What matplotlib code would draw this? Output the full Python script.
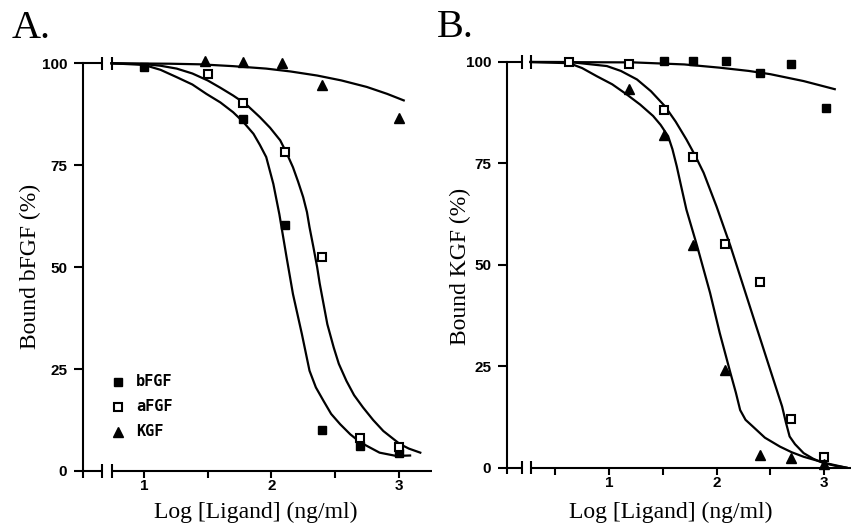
import matplotlib
matplotlib.use("Agg")
import matplotlib.pyplot as plt
from matplotlib.ticker import FixedLocator

# ---------------- data ----------------
# Panel A: Bound bFGF (%)
A_bFGF_x = [1.0, 1.78, 2.11, 2.40, 2.70, 3.0]
A_bFGF_y = [99.2, 86.4, 60.4, 10.0, 6.2, 4.3]
A_aFGF_x = [1.50, 1.78, 2.11, 2.40, 2.70, 3.0]
A_aFGF_y = [97.4, 90.3, 78.2, 52.6, 8.0, 6.0]
A_KGF_x = [1.48, 1.78, 2.08, 2.40, 3.0]
A_KGF_y = [100.5, 100.2, 100.0, 94.6, 86.7]

# fitted curves, panel A
A_bFGF_cx = [0.745, 1.0, 1.13, 1.257, 1.38, 1.49, 1.60, 1.70, 1.78, 1.86, 1.91,
             1.96, 2.016, 2.063, 2.12, 2.17, 2.24, 2.30, 2.35, 2.41, 2.47, 2.54,
             2.62, 2.70, 2.85, 2.98, 3.09]
A_bFGF_cy = [100.0, 99.6, 98.4, 96.6, 94.8, 92.5, 90.4, 88.0, 85.6, 82.7, 80.0,
             77.0, 70.4, 63.0, 52.4, 43.4, 33.6, 24.6, 20.5, 17.2, 14.0, 11.5,
             9.0, 7.0, 4.5, 3.7, 3.8]
A_aFGF_cx = [0.745, 1.0, 1.13, 1.257, 1.38, 1.5, 1.60, 1.70, 1.80, 1.91, 1.99,
             2.07, 2.12, 2.17, 2.21, 2.25, 2.28, 2.30, 2.33, 2.36, 2.38, 2.41,
             2.44, 2.49, 2.53, 2.59, 2.65, 2.72, 2.80, 2.88, 3.01, 3.08, 3.17]
A_aFGF_cy = [100.0, 99.8, 99.4, 98.7, 97.5, 95.8, 94.0, 92.1, 90.0, 86.8, 84.2,
             81.1, 78.0, 74.5, 71.0, 67.2, 63.5, 59.8, 55.0, 50.0, 46.0, 41.0,
             36.0, 30.3, 26.3, 22.1, 18.6, 15.6, 12.5, 9.8, 6.6, 5.5, 4.5]
A_KGF_cx = [0.745, 1.2, 1.44, 1.7, 1.96, 2.15, 2.36, 2.55, 2.75, 2.91, 3.04]
A_KGF_cy = [100.0, 99.9, 99.75, 99.3, 98.7, 98.0, 97.0, 95.8, 94.2, 92.5, 90.9]

# Panel B: Bound KGF (%)
B_aFGF_x = [0.63, 1.19, 1.51, 1.78, 2.08, 2.40, 2.69, 3.0]
B_aFGF_y = [100.0, 99.4, 88.1, 76.6, 55.2, 45.8, 12.0, 2.7]
B_bFGF_x = [1.51, 1.78, 2.09, 2.40, 2.69, 3.02]
B_bFGF_y = [100.2, 100.2, 100.3, 97.2, 99.4, 88.7]
B_KGF_x = [1.19, 1.51, 1.78, 2.08, 2.40, 2.69, 3.0]
B_KGF_y = [93.3, 82.1, 55.0, 24.1, 3.1, 2.3, 0.8]

B_aFGF_cx = [0.27, 0.63, 0.98, 1.11, 1.26, 1.39, 1.52, 1.62, 1.72, 1.80, 1.88,
             2.0, 2.13, 2.25, 2.37, 2.50, 2.61, 2.645, 2.68, 2.73, 2.81, 2.90,
             2.99, 3.10, 3.21]
B_aFGF_cy = [100.0, 100.0, 99.0, 97.8, 95.7, 92.8, 89.1, 85.3, 80.9, 77.0, 72.7,
             64.4, 54.6, 44.7, 34.8, 24.1, 15.1, 11.2, 7.7, 5.8, 3.6, 2.2,
             1.2, 0.5, 0.0]
B_KGF_cx = [0.27, 0.63, 0.75, 0.886, 1.03, 1.165, 1.29, 1.41, 1.48, 1.55, 1.59,
            1.63, 1.67, 1.72, 1.82, 1.94, 2.03, 2.13, 2.18, 2.22, 2.27, 2.34,
            2.45, 2.59, 2.70, 2.81, 3.02, 3.21]
B_KGF_cy = [100.0, 99.7, 98.5, 96.5, 94.5, 92.0, 89.5, 86.7, 84.5, 81.7, 78.5,
            74.3, 69.5, 63.6, 54.6, 43.1, 33.2, 23.3, 18.5, 14.2, 11.8, 10.1,
            7.4, 5.2, 3.8, 2.7, 1.1, 0.0]
B_bFGF_cx = [0.27, 1.23, 1.70, 2.03, 2.30, 2.50, 2.81, 3.10]
B_bFGF_cy = [100.0, 99.9, 99.4, 98.6, 97.8, 97.0, 95.3, 93.3]

y_ticks = [0, 25, 50, 75, 100]
x_ticks = [1, 2, 3]
A_minor = [1.5, 2.5]
B_minor = [0.5, 1.5, 2.5]
legend_labels = ["bFGF", "aFGF", "KGF"]

# ---------------- figure ----------------
W, H = 851, 527
fig = plt.figure(figsize=(W / 100, H / 100), dpi=100)
fig.patch.set_facecolor("white")


def ax_at(l, r, b, t):
    return fig.add_axes([l / W, (H - b) / H, (r - l) / W, (b - t) / H])


axA = ax_at(83, 432, 471, 63.3)
axB = ax_at(507, 851, 467.7, 62)

tickfont = dict(family="Liberation Sans", weight="bold", size=11)
LW_AX = 1.5
LW_C = 1.6
MS = 6


def style(ax, xlim, minor, brk):
    ax.set_xlim(*xlim)
    ax.set_ylim(0, 100)
    for s in ("top", "right", "bottom"):
        ax.spines[s].set_visible(False)
    ax.spines["left"].set_linewidth(LW_AX)
    ax.xaxis.set_major_locator(FixedLocator(x_ticks))
    ax.xaxis.set_minor_locator(FixedLocator(minor))
    ax.set_yticks(y_ticks)
    ax.set_xticklabels([str(v) for v in x_ticks], fontdict=tickfont)
    ax.set_yticklabels([str(v) for v in y_ticks], fontdict=tickfont)
    ax.tick_params(axis="y", direction="out", length=6.3, width=LW_AX, pad=5)
    ax.tick_params(axis="x", which="both", direction="out", length=4.8,
                   width=LW_AX, pad=1)
    x0, x1 = xlim
    b1, b2 = brk
    d = 1.65
    k = dict(color="k", lw=LW_AX, clip_on=False, solid_capstyle="butt")
    # broken x-axis
    ax.plot([x0, b1], [0, 0], **k)
    ax.plot([b2, x1], [0, 0], **k)
    ax.plot([x0, x0], [0, -d], **k)
    for b in (b1, b2):
        ax.plot([b, b], [-d, d], **k)
        ax.plot([b, b], [100 - d, 100 + d], **k)
    # top stub
    ax.plot([x0, b1], [100, 100], **k)
    ax.set_facecolor("none")


style(axA, (0.521, 3.262), A_minor, (0.674, 0.745))
style(axB, (0.051, 3.251), B_minor, (0.188, 0.270))

mk_b = dict(marker="s", ms=MS, mfc="k", mec="k", ls="none", clip_on=False, zorder=4)
mk_a = dict(marker="s", ms=MS, mfc="white", mec="k", mew=1.5, ls="none", clip_on=False, zorder=4)
mk_k = dict(marker="^", ms=MS + 1.5, mfc="k", mec="k", ls="none", clip_on=False, zorder=4)
cl = dict(color="k", lw=LW_C, clip_on=False, zorder=3, solid_joinstyle="round")

# Panel A
axA.plot(A_bFGF_cx, A_bFGF_cy, **cl)
axA.plot(A_aFGF_cx, A_aFGF_cy, **cl)
axA.plot(A_KGF_cx, A_KGF_cy, **cl)
axA.plot(A_bFGF_x, A_bFGF_y, **mk_b)
axA.plot(A_aFGF_x, A_aFGF_y, **mk_a)
axA.plot(A_KGF_x, A_KGF_y, **mk_k)

# Panel B
axB.plot(B_aFGF_cx, B_aFGF_cy, **cl)
axB.plot(B_KGF_cx, B_KGF_cy, **cl)
axB.plot(B_bFGF_cx, B_bFGF_cy, **cl)
axB.plot(B_bFGF_x, B_bFGF_y, **mk_b)
axB.plot(B_aFGF_x, B_aFGF_y, **mk_a)
axB.plot(B_KGF_x, B_KGF_y, **mk_k)

# legend in panel A (drawn manually)
leg_y = [21.9, 15.8, 9.6]
leg_styles = [mk_b, mk_a, mk_k]
for lab, yy, st in zip(legend_labels, leg_y, leg_styles):
    axA.plot([0.798], [yy], **st)
    axA.text(0.937, yy, lab, va="center", ha="left", family="DejaVu Sans Mono",
             weight="bold", size=11)

# labels
lab_font = dict(family="Liberation Serif", size=17)
fig.text(255.5 / W, (H - 518) / H, "Log [Ligand] (ng/ml)", ha="center",
         va="baseline", **lab_font)
fig.text(671 / W, (H - 518) / H, "Log [Ligand] (ng/ml)", ha="center",
         va="baseline", **lab_font)
fig.text(30 / W, (H - 266.7) / H, "Bound bFGF (%)", rotation=90, ha="center",
         va="center", **lab_font)
fig.text(460 / W, (H - 266) / H, "Bound KGF (%)", rotation=90, ha="center",
         va="center", **lab_font)

# panel letters
fig.text(12 / W, (H - 38.3) / H, "A.", ha="left", va="baseline",
         family="Liberation Serif", size=29)
fig.text(437 / W, (H - 36.7) / H, "B.", ha="left", va="baseline",
         family="Liberation Serif", size=29)

fig.savefig("out.png", dpi=100, facecolor="white")
